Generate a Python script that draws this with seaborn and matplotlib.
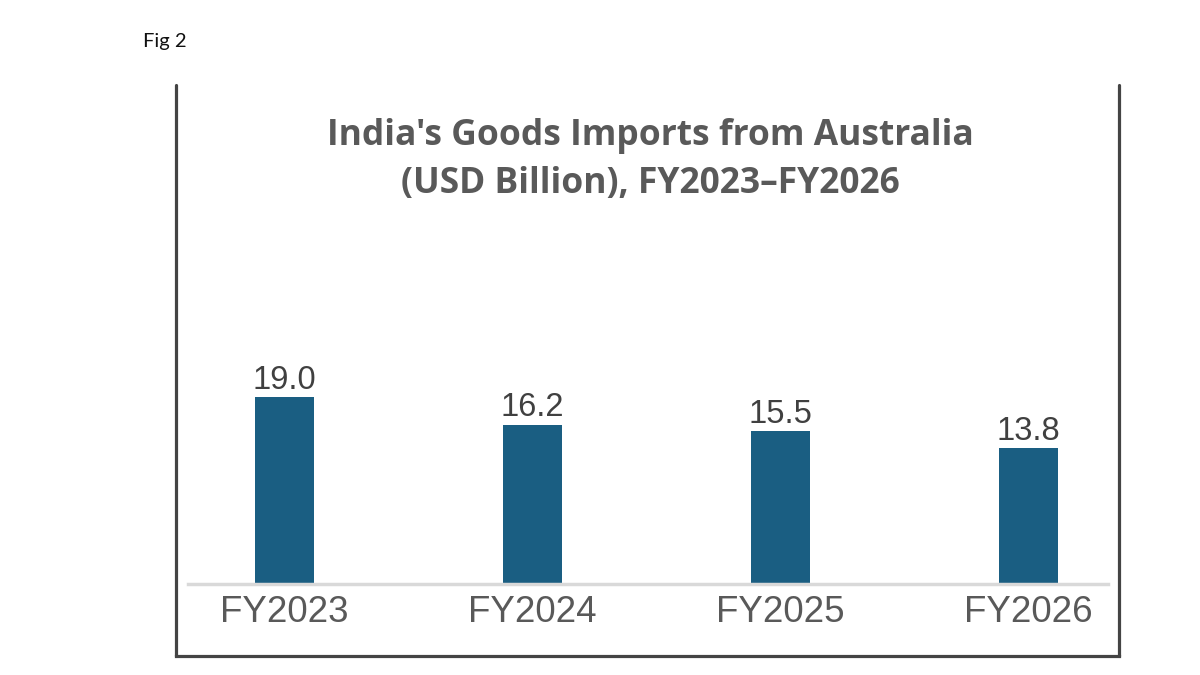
import matplotlib
matplotlib.use("Agg")
import matplotlib.pyplot as plt
import seaborn as sns
import pandas as pd
from matplotlib.lines import Line2D

categories = ["FY2023", "FY2024", "FY2025", "FY2026"]
values = [19.0, 16.2, 15.5, 13.8]
value_labels = ["19.0", "16.2", "15.5", "13.8"]
title = "India's Goods Imports from Australia\n(USD Billion), FY2023\u2013FY2026"

sns.set_theme(style="white")
plt.rcParams['font.family'] = ['Liberation Sans', 'DejaVu Sans']

df = pd.DataFrame({"year": categories, "value": values})

fig = plt.figure(figsize=(12, 6.75), dpi=100)
ax = fig.add_axes([188/1200, 1-584/675, (1108-188)/1200, 0.5 - (1-584/675)])

sns.barplot(data=df, x="year", y="value", color="#1a5e82", width=0.24,
            saturation=1, ax=ax, edgecolor="none")

ax.set_xlim(-0.39, 3.32)
ax.set_ylim(0, 25.05)
for s in ["top", "right", "left"]:
    ax.spines[s].set_visible(False)
ax.spines["bottom"].set_color("#d9d9d9")
ax.spines["bottom"].set_linewidth(2.5)
ax.set_yticks([])
ax.set_xlabel("")
ax.set_ylabel("")
ax.tick_params(axis="x", length=0, pad=8, labelsize=26.5, labelcolor="#595959")

for i, (v, lab) in enumerate(zip(values, value_labels)):
    ax.annotate(lab, (i, v), xytext=(0, 1), textcoords="offset points",
                ha="center", va="bottom", fontsize=23.5, color="#404040")

fig.text(650/1200, 1-160/675, title, ha="center", va="center",
         fontsize=25.5, fontweight="bold", color="#595959", linespacing=1.42,
         family=["Open Sans", "DejaVu Sans"])

fig.text(143/1200, 1-42/675, "Fig 2", ha="left", va="center",
         fontsize=14.5, color="#111111", family=["Lato", "DejaVu Sans"])

# frame around the chart (open at top)
fc = "#444444"
lw = 2.3
fig.add_artist(Line2D([176/1200, 176/1200], [1-85/675, 1-656/675], color=fc, lw=lw, transform=fig.transFigure))
fig.add_artist(Line2D([1119/1200, 1119/1200], [1-85/675, 1-656/675], color=fc, lw=lw, transform=fig.transFigure))
fig.add_artist(Line2D([176/1200, 1119/1200], [1-656/675, 1-656/675], color=fc, lw=lw, transform=fig.transFigure, solid_capstyle="projecting"))

fig.savefig("out.png", dpi=100)
